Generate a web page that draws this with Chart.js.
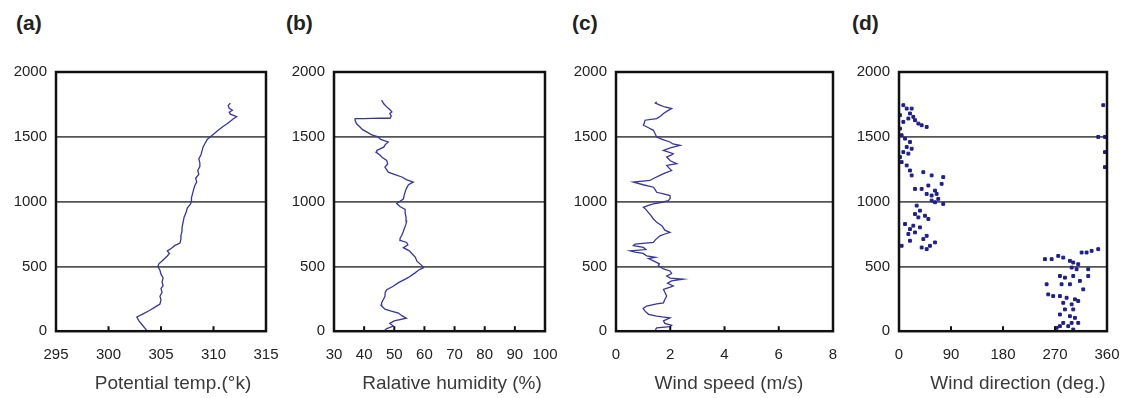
<!DOCTYPE html>
<html>
<head>
<meta charset="utf-8">
<script src="https://cdn.jsdelivr.net/npm/chart.js@4/dist/chart.umd.min.js"></script>
<style>
  html, body { margin: 0; padding: 0; background: #fff; }
  body { width: 1130px; height: 398px; position: relative; overflow: hidden; }
  canvas { position: absolute; top: 0; }
  .tag { position: absolute; top: 11px; font: bold 21px "Liberation Sans", Arial, sans-serif; color: #222; }
</style>
</head>
<body>
<div class="tag" style="left:16px">(a)</div>
<div class="tag" style="left:286px">(b)</div>
<div class="tag" style="left:572px">(c)</div>
<div class="tag" style="left:852px">(d)</div>
<canvas id="ca" width="346" height="398" style="left:0px"></canvas>
<canvas id="cb" width="348" height="398" style="left:278px"></canvas>
<canvas id="cc" width="338" height="398" style="left:560px"></canvas>
<canvas id="cd" width="350" height="398" style="left:843px"></canvas>
<script>
// heights (m) shared tick labels
const heightTicks = [0, 500, 1000, 1500, 2000];

// (a) potential temperature profile
const heightA = [0, 20, 50, 80, 110, 130, 160, 190, 210, 240, 270, 300, 330, 350, 380, 410, 440, 470, 500, 520,
  550, 580, 600, 620, 640, 660, 680, 710, 740, 770, 800, 840, 880, 920, 950, 980, 1000, 1030, 1060, 1090,
  1120, 1150, 1180, 1210, 1240, 1270, 1300, 1330, 1360, 1390, 1420, 1450, 1480, 1500, 1520, 1540, 1560, 1580,
  1600, 1620, 1640, 1655, 1665, 1675, 1690, 1705, 1720, 1740, 1760];
const thetaA = [303.7, 303.5, 303.2, 302.9, 302.7, 303.2, 303.9, 304.5, 304.9, 305.0, 304.9, 305.1, 305.0, 305.2, 305.1, 305.2, 305.0, 304.9, 304.7, 304.8,
  305.2, 305.6, 305.8, 305.6, 306.0, 306.3, 306.8, 306.9, 306.9, 307.0, 307.0, 307.1, 307.2, 307.4, 307.5, 307.8, 307.9, 307.9, 308.0, 308.1,
  308.2, 308.4, 308.3, 308.6, 308.5, 308.7, 308.7, 308.6, 308.8, 308.9, 309.0, 309.2, 309.4, 309.7, 310.0, 310.3, 310.6, 310.9,
  311.3, 311.6, 311.9, 312.2, 311.9, 311.6, 311.5, 311.8, 311.5, 311.4, 311.6];

// (b) relative humidity profile
const heightB = [0, 20, 40, 60, 80, 100, 120, 140, 155, 170, 200, 220, 250, 270, 300, 320, 345, 375, 400, 415,
  450, 470, 490, 510, 540, 570, 600, 620, 645, 665, 685, 700, 715, 740, 770, 790, 820, 850, 880, 910,
  940, 960, 985, 1005, 1020, 1050, 1075, 1100, 1130, 1150, 1170, 1190, 1210, 1227, 1245, 1266, 1290, 1318,
  1340, 1357, 1380, 1395, 1420, 1440, 1460, 1480, 1499, 1515, 1530, 1555, 1576, 1600, 1625, 1640, 1641,
  1642, 1643, 1643, 1660, 1680, 1692, 1710, 1731, 1755, 1783];
const rhB = [46.5, 47.5, 49.7, 48.5, 50.0, 54.0, 52.5, 51.4, 49.0, 46.9, 45.6, 45.8, 46.5, 46.9, 47.0, 47.5, 49.5, 51.4, 53.5, 54.7,
  56.9, 58.0, 59.7, 59.0, 57.5, 57.0, 55.8, 55.0, 53.0, 54.5, 54.1, 52.0, 51.9, 52.5, 53.0, 53.3, 53.8, 54.1, 53.9, 53.6,
  53.6, 52.0, 50.8, 52.0, 53.0, 53.3, 53.6, 54.0, 54.7, 56.3, 54.0, 52.5, 50.0, 48.0, 47.5, 46.9, 47.8, 47.5,
  46.0, 45.3, 44.0, 44.2, 46.5, 47.0, 48.0, 45.5, 44.7, 42.5, 41.4, 39.5, 38.6, 37.5, 37.0, 37.0, 40.0,
  42.5, 45.5, 48.6, 49.0, 48.5, 49.2, 48.5, 47.5, 46.5, 45.8];

// (c) wind speed profile
const heightC = [10, 26, 35, 45, 60, 80, 103, 110, 116, 130, 155, 175, 194, 210, 219, 245, 271, 300, 323, 340,
  349, 370, 388, 401, 410, 426, 445, 465, 480, 504, 520, 543, 560, 570, 581, 600, 610, 620, 630, 646,
  660, 672, 685, 705, 736, 750, 762, 780, 814, 840, 866, 890, 917, 940, 956, 970, 982, 995, 1008, 1025,
  1047, 1060, 1072, 1090, 1111, 1130, 1150, 1163, 1180, 1202, 1220, 1240, 1260, 1279, 1292, 1315, 1344, 1360,
  1370, 1395, 1415, 1434, 1445, 1460, 1480, 1499, 1520, 1550, 1570, 1589, 1610, 1628, 1641, 1660, 1680, 1700,
  1718, 1730, 1744, 1760, 1770];
const speedC = [1.45, 1.50, 1.99, 2.05, 1.80, 1.75, 1.99, 1.70, 1.50, 1.20, 1.07, 1.00, 1.13, 1.50, 1.75, 1.80, 1.87, 1.80, 1.75, 2.00,
  2.11, 1.90, 2.05, 2.48, 2.00, 1.87, 2.05, 1.99, 1.75, 1.56, 1.60, 1.38, 1.20, 1.45, 1.13, 1.00, 0.70, 0.52, 1.10, 1.01,
  0.64, 0.70, 1.38, 1.45, 1.62, 1.80, 1.99, 1.80, 1.69, 1.50, 1.38, 1.30, 1.19, 1.10, 1.01, 1.20, 1.38, 1.70, 1.93, 2.00,
  1.99, 1.75, 1.50, 1.45, 1.38, 1.00, 0.64, 1.25, 1.40, 1.62, 1.80, 2.05, 1.95, 1.87, 2.24, 2.00, 1.87, 2.05,
  2.11, 1.75, 2.00, 2.36, 2.10, 1.99, 1.70, 1.50, 1.45, 1.38, 1.20, 1.01, 1.05, 1.07, 1.50, 1.65, 1.75, 1.90,
  2.05, 1.80, 1.62, 1.45, 1.50];

// (d) wind direction observations
const heightD = [1744, 1718, 1718, 1680, 1654, 1628, 1602, 1589, 1576, 1641, 1615, 1667, 1563, 1512, 1486, 1460, 1421, 1408,
  1382, 1370, 1344, 1305, 1279, 1240, 1202,
  1227, 1202, 1189, 1137, 1124, 1098, 1098, 1085, 1059, 1047, 1059, 1021, 1008, 982, 995, 969, 930, 904, 891, 878, 866,
  827, 814, 788, 801, 762, 750, 736, 711, 698, 685, 646, 633, 659, 659,
  1744, 1499, 1499, 1499, 1382, 1266,
  556, 556, 581, 568, 543, 530, 517, 607, 607, 620, 633, 491, 478, 478, 426, 413, 426, 388, 426, 362, 362, 362,
  284, 271, 323, 271, 258, 246, 219, 207, 233, 168, 168, 129, 116, 103, 64, 64, 64, 39, 39, 13, 26];
const dirD = [7.5, 13.3, 21.9, 19.0, 24.8, 27.7, 33.5, 39.2, 47.9, 16.2, 7.5, 1.7, 1.7, 4.6, 10.4, 19.0, 13.3, 21.9,
  7.5, 16.2, 1.7, 4.6, 13.3, 19.0, 21.9,
  42.1, 56.5, 76.6, 73.8, 50.8, 39.2, 27.7, 62.3, 47.9, 56.5, 65.2, 68.0, 56.5, 76.6, 62.3, 30.6, 36.3, 27.7, 45.0, 33.5, 50.8,
  10.4, 24.8, 19.0, 36.3, 27.7, 16.2, 47.9, 42.1, 19.0, 62.3, 39.2, 47.9, 4.6, 53.6,
  353.5, 344.8, 356.4, 360, 356.4, 356.4,
  252.6, 264.2, 275.6, 284.3, 295.8, 301.6, 310.2, 316.1, 324.7, 333.4, 344.8, 298.8, 307.4, 327.5, 278.5, 287.2, 301.6, 313.1, 327.5, 281.4, 295.8, 255.5,
  258.3, 266.9, 318.9, 278.5, 290.1, 304.5, 284.3, 298.8, 310.2, 287.2, 301.6, 278.5, 295.8, 304.5, 284.3, 298.8, 310.2, 278.5, 292.9, 301.6, 272.8];

const pairs = (xs, ys) => xs.map((v, i) => ({ x: v, y: ys[i] }));

// box around plot area + short inner ticks on the x axis
const framePlugin = {
  id: 'frame',
  afterDraw(chart) {
    const { ctx, chartArea: a, scales } = chart;
    const x = scales.x;
    ctx.save();
    ctx.strokeStyle = '#111';
    ctx.lineWidth = 2.5;
    ctx.strokeRect(a.left, a.top, a.right - a.left, a.bottom - a.top);
    ctx.lineWidth = 2;
    x.ticks.forEach(t => {
      const px = x.getPixelForValue(t.value);
      ctx.beginPath();
      ctx.moveTo(px, a.bottom);
      ctx.lineTo(px, a.bottom - 5);
      ctx.stroke();
    });
    ctx.restore();
  }
};

const tickFont = { family: "'Liberation Sans', Arial, sans-serif", size: 15 };

function makePanel(id, data, xMin, xMax, xStep, xLabel, rightPad, isLine) {
  return new Chart(document.getElementById(id), {
    type: 'scatter',
    data: {
      datasets: [{
        data,
        showLine: isLine,
        borderColor: isLine ? '#3535a8' : '#1e1e8e',
        backgroundColor: '#1e1e8e',
        borderWidth: isLine ? 1.3 : 1,
        pointRadius: isLine ? 0 : 2,
        pointStyle: 'rect'
      }]
    },
    options: {
      responsive: false,
      animation: false,
      devicePixelRatio: 1,
      layout: { padding: { top: 72, left: 0, right: 0, bottom: 0 } },
      plugins: {
        legend: { display: false },
        tooltip: { enabled: false },
        title: {
          display: true,
          position: 'bottom',
          text: xLabel,
          color: '#3a3a3a',
          font: { family: "'Liberation Sans', Arial, sans-serif", size: 19, weight: 'normal' },
          padding: { top: 0, bottom: 3 }
        }
      },
      scales: {
        x: {
          type: 'linear',
          min: xMin, max: xMax,
          ticks: { stepSize: xStep, color: '#222', font: tickFont, padding: 15, maxRotation: 0, callback: v => String(v) },
          grid: { display: false, drawTicks: false },
          border: { display: false },
          afterFit: s => { s.height = 41; }
        },
        y: {
          type: 'linear',
          min: 0, max: 2000,
          afterBuildTicks: s => { s.ticks = heightTicks.map(v => ({ value: v })); },
          ticks: { color: '#222', font: tickFont, padding: 9, callback: v => String(v) },
          grid: { color: '#555', lineWidth: 1.8, drawTicks: false },
          border: { display: false },
          afterFit: s => { s.width = 56; }
        },
        y2: {
          type: 'linear',
          position: 'right',
          display: true,
          ticks: { display: false },
          grid: { display: false, drawTicks: false },
          border: { display: false },
          afterFit: s => { s.width = rightPad; }
        }
      }
    },
    plugins: [framePlugin]
  });
}

makePanel('ca', pairs(thetaA, heightA), 295, 315, 5, 'Potential temp.(\u00b0k)', 80, true);
makePanel('cb', pairs(rhB, heightB), 30, 100, 10, 'Ralative humidity (%)', 81, true);
makePanel('cc', pairs(speedC, heightC), 0, 8, 2, 'Wind speed (m/s)', 65, true);
makePanel('cd', pairs(dirD, heightD), 0, 360, 90, 'Wind direction (deg.)', 86, false);
</script>
</body>
</html>
